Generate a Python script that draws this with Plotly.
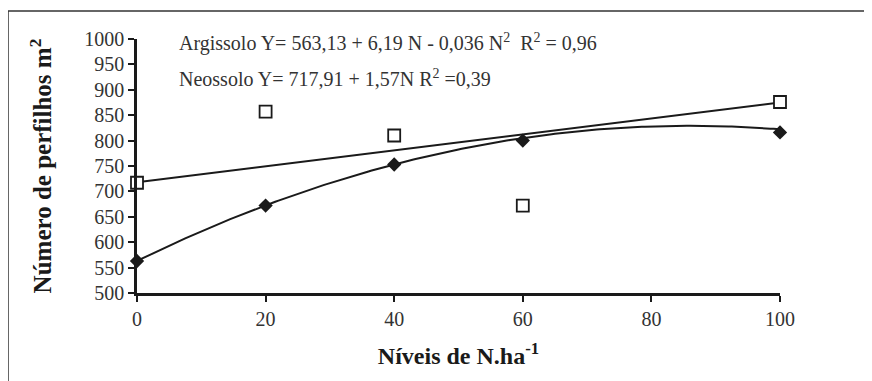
import numpy as np
import plotly.graph_objects as go

# Data
niveis = [0, 20, 40, 60, 100]
argissolo = [563, 672, 753, 800, 816]
neossolo = [717, 857, 810, 672, 876]
arg_coef = [563.13, 6.19, -0.036]   # Y = a + bN + cN^2
neo_coef = [717.91, 1.57]           # Y = a + bN
x_ticks = [0, 20, 40, 60, 80, 100]
y_ticks = [500, 550, 600, 650, 700, 750, 800, 850, 900, 950, 1000]

N = np.linspace(0, 100, 201)
arg_fit = arg_coef[0] + arg_coef[1] * N + arg_coef[2] * N ** 2
neo_fit = neo_coef[0] + neo_coef[1] * N

SERIF = "Liberation Serif, Times New Roman, serif"

L, T, PW, PH = 129, 31, 643, 254

fig = go.Figure()
fig.add_trace(go.Scatter(x=N, y=arg_fit, mode="lines",
                         line=dict(color="#1a1a1a", width=2), hoverinfo="skip"))
fig.add_trace(go.Scatter(x=N, y=neo_fit, mode="lines",
                         line=dict(color="#1a1a1a", width=2), hoverinfo="skip"))
fig.add_trace(go.Scatter(x=niveis, y=argissolo, mode="markers", name="Argissolo",
                         marker=dict(symbol="diamond", size=11, color="#1a1a1a",
                                     line=dict(width=0)),
                         cliponaxis=False))
fig.add_trace(go.Scatter(x=niveis, y=neossolo, mode="markers", name="Neossolo",
                         marker=dict(symbol="square", size=12, color="white",
                                     line=dict(color="#1a1a1a", width=1.8)),
                         cliponaxis=False))

fig.update_layout(
    width=872, height=381,
    margin=dict(l=L, r=872 - L - PW, t=T, b=381 - T - PH),
    paper_bgcolor="white", plot_bgcolor="white",
    showlegend=False,
    font=dict(family=SERIF, color="#333333"),
    xaxis=dict(range=[0, 100], tickvals=x_ticks, showgrid=False, zeroline=False,
               showline=True, linecolor="#1a1a1a", linewidth=2.5,
               ticks="outside", ticklen=6, tickwidth=1.5, tickcolor="#1a1a1a",
               tickfont=dict(size=20, family=SERIF, color="#333333"),
               title=dict(text="<b>Níveis de N.ha<sup>-1</sup></b>",
                          font=dict(size=24, family=SERIF, color="#1a1a1a"),
                          standoff=19)),
    yaxis=dict(range=[500, 1000], tickvals=y_ticks, showgrid=False, zeroline=False,
               showline=True, linecolor="#1a1a1a", linewidth=2.5,
               ticks="outside", ticklen=6, tickwidth=1.5, tickcolor="#1a1a1a",
               tickfont=dict(size=20, family=SERIF, color="#333333"),
               title=dict(text="<b>Número de perfilhos m<sup>2</sup></b>",
                          font=dict(size=25, family=SERIF, color="#1a1a1a"),
                          standoff=26)),
)

def px_x(px):
    return (px - 8 - L) / PW

def px_y(py):
    return (T + PH - (py - 8)) / PH

fig.add_annotation(xref="paper", yref="paper", x=px_x(177), y=px_y(43),
                   xanchor="left", yanchor="middle", showarrow=False,
                   text="Argissolo Y= 563,13 + 6,19 N - 0,036 N<sup>2</sup>  R<sup>2</sup> = 0,96",
                   font=dict(size=20, family=SERIF, color="#333333"))
fig.add_annotation(xref="paper", yref="paper", x=px_x(177), y=px_y(78),
                   xanchor="left", yanchor="middle", showarrow=False,
                   text="Neossolo Y= 717,91 + 1,57N R<sup>2</sup> =0,39",
                   font=dict(size=20, family=SERIF, color="#333333"))

# outer frame (extends beyond the visible page on right/bottom)
fig.add_shape(type="line", xref="paper", yref="paper",
              x0=px_x(8), x1=1.3, y0=px_y(11), y1=px_y(11),
              line=dict(color="#333333", width=1.5))
fig.add_shape(type="line", xref="paper", yref="paper",
              x0=px_x(8), x1=px_x(8), y0=px_y(11), y1=-0.5,
              line=dict(color="#333333", width=1.5))

fig.write_html("out.html")
